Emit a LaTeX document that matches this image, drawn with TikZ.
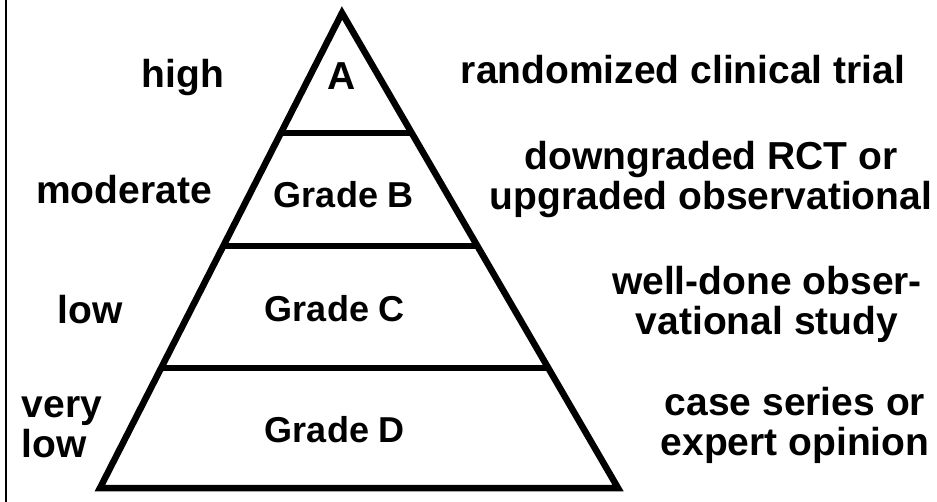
\documentclass[tikz,border=0pt]{standalone}
\usepackage{fontspec}
\setmainfont{Liberation Sans}
\usetikzlibrary{calc}
\begin{document}
\begin{tikzpicture}[x=1pt,y=-1pt,
  lbl/.style={font=\fontsize{39}{40}\selectfont\bfseries, align=center, inner sep=0pt},
  grade/.style={font=\fontsize{36}{40}\selectfont\bfseries, inner sep=0pt},
  pyr/.style={line width=6.5pt}]
\useasboundingbox (0,0) rectangle (937,502);
\draw[line width=2pt] (6,0) -- (6,502);
\coordinate (apex) at (342,13);
\coordinate (bl) at (100,488);
\coordinate (br) at (618,488);
\draw[pyr] (bl) -- (apex) -- (br) -- cycle;
\foreach \t/\n in {0.2526/one,0.4905/two,0.7474/three}{
  \coordinate (l\n) at ($(apex)!\t!(bl)$);
  \coordinate (r\n) at ($(apex)!\t!(br)$);
  \draw[pyr] (l\n) -- (r\n);
}
\node[lbl] (ga) at (342,76) {A};
\node[grade] (gb) at (344,195) {Grade B};
\node[grade] (gc) at (335,309) {Grade C};
\node[grade] (gd) at (335,430) {Grade D};
\node[lbl] (high) at (183,78) {high};
\node[lbl] (mod) at (124,190) {moderate};
\node[lbl] (low) at (90,310) {low};
\node[lbl, align=left] (vlow) at (62,427) {very\\low};
\node[lbl] (rct) at (683,70) {randomized clinical trial};
\node[lbl] (down) at (711,180) {downgraded RCT or\\upgraded observational};
\node[lbl] (well) at (767,304) {well-done obser-\\vational study};
\node[lbl] (case) at (795,425) {case series or\\expert opinion};
\end{tikzpicture}
\end{document}
